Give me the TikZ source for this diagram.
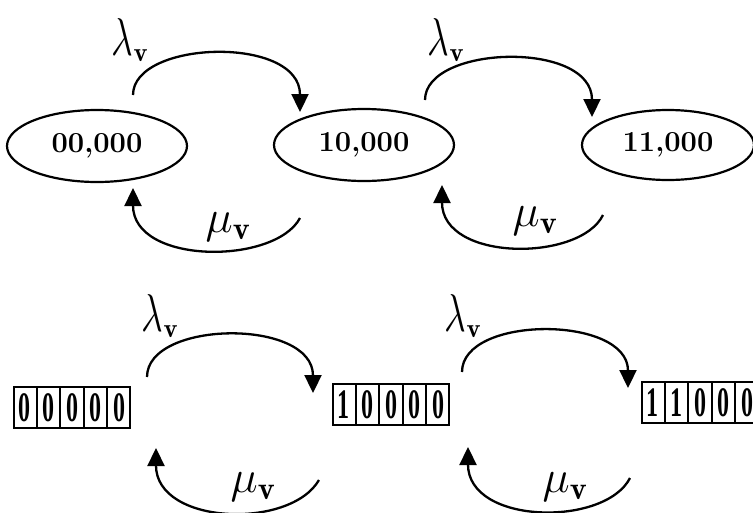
\RequirePackage{fix-cm}
\documentclass[tikz,border=0pt]{standalone}
\usepackage{graphicx}
\usepackage{fontspec}
\newfontfamily\digfont{Liberation Serif}
\usetikzlibrary{arrows.meta,shapes.geometric,shapes.multipart}
\newcommand{\lamv}{$\scalebox{1}[1.4]{$\lambda$}_{\mathbf{v}}$}
\newcommand{\muvv}{$\mu_{\mathbf{v}}$}
\newcommand{\dcell}[1]{\makebox[21.6pt]{\rule[-6pt]{0pt}{41pt}\scalebox{1}[1.75]{\fontsize{24}{25}\digfont\bfseries #1}}}
\tikzset{
  stateell/.style={ellipse, draw, line width=2.2pt, inner sep=0pt,
    minimum width=180pt, minimum height=72pt,
    font=\fontsize{29}{30}\selectfont\bfseries},
  cellbox/.style={rectangle split, rectangle split horizontal,
    rectangle split parts=5, draw, line width=2pt, inner sep=0pt},
  arc/.style={line width=2.3pt, -{Triangle[width=17pt,length=18pt]}},
  lamlab/.style={inner sep=0pt, font=\fontsize{38}{40}\selectfont},
  mulab/.style={inner sep=0pt, font=\fontsize{46}{48}\selectfont}
}
\begin{document}
\begin{tikzpicture}[x=1pt,y=-1pt]
\useasboundingbox (0,0) rectangle (753,512);
% top row states
\node[stateell] (e1) at (97,146) {00,000};
\node[stateell] (e2) at (364,145) {10,000};
\node[stateell, minimum width=172pt, minimum height=70pt] (e3) at (668,145) {11,000};
% bottom row states
\node[cellbox] (s1) at (72,407) {\dcell{0}\nodepart{two}\dcell{0}\nodepart{three}\dcell{0}\nodepart{four}\dcell{0}\nodepart{five}\dcell{0}};
\node[cellbox] (s2) at (391,404) {\dcell{1}\nodepart{two}\dcell{0}\nodepart{three}\dcell{0}\nodepart{four}\dcell{0}\nodepart{five}\dcell{0}};
\node[cellbox] (s3) at (700,402) {\dcell{1}\nodepart{two}\dcell{1}\nodepart{three}\dcell{0}\nodepart{four}\dcell{0}\nodepart{five}\dcell{0}};
% arc end points
\coordinate (a1s) at (133,95);  \coordinate (a1e) at (300,112);
\coordinate (b1s) at (300,218); \coordinate (b1e) at (133,188);
\coordinate (a2s) at (425,100); \coordinate (a2e) at (592,117);
\coordinate (b2s) at (603,215); \coordinate (b2e) at (442,185);
\coordinate (a3s) at (147,377); \coordinate (a3e) at (313,393);
\coordinate (b3s) at (319,480); \coordinate (b3e) at (156,448);
\coordinate (a4s) at (462,372); \coordinate (a4e) at (628,388);
\coordinate (b4s) at (630,478); \coordinate (b4e) at (468,447);
% arcs
\draw[arc] (a1s) .. controls (133,40) and (300,35) .. (a1e);
\draw[arc] (b1s) .. controls (275,265) and (133,265) .. (b1e);
\draw[arc] (a2s) .. controls (425,45) and (592,40) .. (a2e);
\draw[arc] (b2s) .. controls (580,262) and (442,262) .. (b2e);
\draw[arc] (a3s) .. controls (147,320) and (313,318) .. (a3e);
\draw[arc] (b3s) .. controls (290,530) and (156,525) .. (b3e);
\draw[arc] (a4s) .. controls (462,315) and (628,315) .. (a4e);
\draw[arc] (b4s) .. controls (605,527) and (468,525) .. (b4e);
% labels
\node[lamlab] (l1) at (130,40) {\lamv};
\node[lamlab] (l2) at (446,40) {\lamv};
\node[lamlab] (l3) at (160,316) {\lamv};
\node[lamlab] (l4) at (463,316) {\lamv};
\node[mulab] (m1) at (228,227) {\muvv};
\node[mulab] (m2) at (535,221) {\muvv};
\node[mulab] (m3) at (253,487) {\muvv};
\node[mulab] (m4) at (565,487) {\muvv};
\end{tikzpicture}
\end{document}
